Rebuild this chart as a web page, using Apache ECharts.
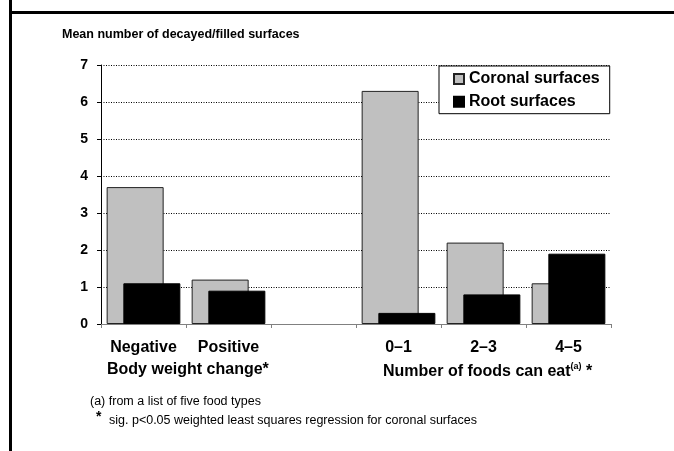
<!DOCTYPE html>
<html>
<head>
<meta charset="utf-8">
<script src="https://cdn.jsdelivr.net/npm/echarts@6/dist/echarts.min.js"></script>
<style>html,body{margin:0;padding:0;background:#fff;}#c{width:674px;height:451px;}</style>
</head>
<body>
<div id="c"></div>
<script>
var categories = ["Negative", "Positive", "", "0\u20131", "2\u20133", "4\u20135"];
var coronal = [3.7, 1.2, null, 6.3, 2.2, 1.1];
var root = [1.1, 0.9, null, 0.3, 0.8, 1.9];
var seriesNames = ["Coronal surfaces", "Root surfaces"];
var titleText = "Mean number of decayed/filled surfaces";
var groupLabels = ["Body weight change*", "Number of foods can eat"];
var footnotes = ["(a) from a list of five food types", "sig. p<0.05 weighted least squares regression for coronal surfaces"];

var FONT = 'Arial, "Liberation Sans", sans-serif';
var chart = echarts.init(document.getElementById('c'), null, {renderer: 'canvas'});
chart.setOption({
  animation: false,
  backgroundColor: '#fff',
  textStyle: {fontFamily: FONT},
  title: {
    text: titleText, left: 62, top: 28, padding: 0,
    textStyle: {fontFamily: FONT, fontSize: 12.5, fontWeight: 'bold', color: '#000'}
  },
  legend: {
    orient: 'vertical', left: 439, top: 66,
    padding: [5, 10, 4, 14], itemGap: 6.7,
    backgroundColor: '#fff', borderColor: '#000', borderWidth: 1,
    icon: 'rect', itemWidth: 10, itemHeight: 10,
    textStyle: {fontFamily: FONT, fontSize: 16, fontWeight: 'bold', color: '#000', lineHeight: 16},
    data: seriesNames
  },
  grid: {left: 101, top: 65, right: 63, bottom: 127, containLabel: false},
  xAxis: {
    type: 'category', data: categories,
    axisLine: {lineStyle: {color: '#808080', width: 1}},
    axisTick: {show: true, length: 4, lineStyle: {color: '#808080'}},
    axisLabel: {margin: 16, fontFamily: FONT, fontSize: 16, fontWeight: 'bold', color: '#000', interval: 0}
  },
  yAxis: {
    type: 'value', min: 0, max: 7, interval: 1,
    axisLine: {show: true, lineStyle: {color: '#000', width: 1}},
    axisTick: {show: true, length: 4, lineStyle: {color: '#000'}},
    axisLabel: {margin: 13, fontFamily: FONT, fontSize: 14, fontWeight: 'bold', color: '#000'},
    splitLine: {show: true, lineStyle: {color: '#000', type: [1, 1.5], width: 1}}
  },
  series: [
    {name: seriesNames[0], type: 'bar', data: coronal, barWidth: 57, barGap: '-70.7%',
     itemStyle: {color: '#c0c0c0', borderColor: '#222', borderWidth: 1}},
    {name: seriesNames[1], type: 'bar', data: root, barWidth: 57, barGap: '-70.7%',
     itemStyle: {color: '#000', borderColor: '#000', borderWidth: 1}}
  ],
  graphic: [
    {type: 'line', shape: {x1: 10.5, y1: 0, x2: 10.5, y2: 451}, style: {stroke: '#000', lineWidth: 3}},
    {type: 'line', shape: {x1: 9, y1: 12.5, x2: 674, y2: 12.5}, style: {stroke: '#000', lineWidth: 3}},
    {type: 'text', left: 107, top: 362, style: {text: groupLabels[0], font: 'bold 16px ' + FONT, fill: '#000'}},
    {type: 'text', left: 383, top: 362, style: {
      text: '{m|' + groupLabels[1] + '}{s|(a)}{m| *}',
      rich: {
        m: {font: 'bold 16px ' + FONT, fill: '#000', verticalAlign: 'bottom', lineHeight: 18},
        s: {font: 'bold 9px ' + FONT, fill: '#000', verticalAlign: 'top', lineHeight: 18, padding: [0, 0, 6, 0]}
      }
    }},
    {type: 'text', left: 90, top: 395, style: {text: footnotes[0], font: '12.5px ' + FONT, fill: '#000'}},
    {type: 'text', left: 96, top: 410, style: {text: '*', font: 'bold 14px ' + FONT, fill: '#000'}},
    {type: 'text', left: 109, top: 414, style: {text: footnotes[1], font: '12.5px ' + FONT, fill: '#000'}}
  ]
});
</script>
</body>
</html>
